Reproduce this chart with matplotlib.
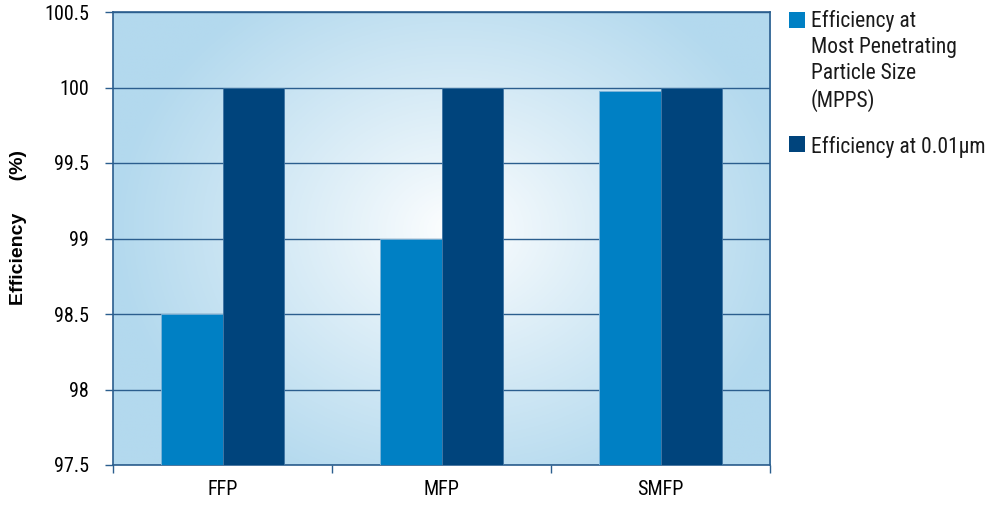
import numpy as np
import matplotlib
matplotlib.use("Agg")
import matplotlib.pyplot as plt
from matplotlib.patches import Rectangle
from matplotlib import font_manager

categories = ["FFP", "MFP", "SMFP"]
eff_mpps = [98.5, 99.0, 99.98]
eff_001 = [100.0, 100.0, 100.0]
legend_labels = ["Efficiency at\nMost Penetrating\nParticle Size\n(MPPS)",
                 "Efficiency at 0.01\u00b5m"]
yticks = [97.5, 98, 98.5, 99, 99.5, 100, 100.5]
ytick_labels = ["97.5", "98", "98.5", "99", "99.5", "100", "100.5"]

names = {f.name for f in font_manager.fontManager.ttflist}
fam = [n for n in ["Roboto Condensed", "Liberation Sans Narrow",
                   "DejaVu Sans"] if n in names]
plt.rcParams['font.family'] = fam
plt.rcParams['font.stretch'] = 'condensed'

light = "#0080C4"
dark = "#00447C"
edge_blue = "#2B5E8E"
W, H = 989, 505

fig = plt.figure(figsize=(W / 100, H / 100), dpi=100)
ax = fig.add_axes([113 / W, 40 / H, 657 / W, 453 / H])

# radial gradient background
nx, ny = 400, 300
gx, gy = np.meshgrid(np.linspace(0, 1, nx), np.linspace(0, 1, ny))
cx, cy = 0.52, 0.52
r = np.sqrt(((gx - cx) / 0.52) ** 2 + ((gy - cy) / 0.62) ** 2)
t = np.clip(r, 0, 1) ** 0.9
c_in = np.array([1.0, 1.0, 1.0])
c_out = np.array([0xB3, 0xD9, 0xEE]) / 255
img = c_in[None, None, :] * (1 - t[..., None]) + c_out[None, None, :] * t[..., None]
ax.imshow(img, extent=[-0.5, 2.5, 97.5, 100.5], aspect="auto", zorder=0,
          origin="lower")

x = np.arange(len(categories))
w = 0.283
ax.bar(x - w / 2, [v - 97.5 for v in eff_mpps], w, bottom=97.5, color=light,
       zorder=3, edgecolor="#7FB5DA", linewidth=0.6)
ax.bar(x + w / 2, [v - 97.5 for v in eff_001], w, bottom=97.5, color=dark,
       zorder=3, edgecolor="#3F74A3", linewidth=0.6)

ax.set_xlim(-0.5, 2.5)
ax.set_ylim(97.5, 100.5)
ax.set_yticks(yticks)
ax.set_yticklabels(ytick_labels, fontsize=14.5)
for yv in yticks:
    ax.axhline(yv, color=edge_blue, lw=1.0, zorder=2)

ax.set_xticks([-0.5, 0.5, 1.5, 2.5])
ax.set_xticklabels([])
ax.set_xticks(x, minor=True)
ax.set_xticklabels(categories, minor=True, fontsize=14.5)
ax.tick_params(axis="x", which="minor", length=0, pad=11)
ax.tick_params(axis="x", which="major", length=5.5, color=edge_blue, width=1)
ax.tick_params(axis="y", length=5.8, color=edge_blue, width=1, pad=11.5)

for s in ax.spines.values():
    s.set_color(edge_blue)
    s.set_linewidth(1.2)

ax.set_ylabel("Efficiency      (%)", fontsize=14, fontweight="bold",
              family=["Liberation Sans", "DejaVu Sans"], fontstretch="normal")
ax.yaxis.set_label_coords(-0.131, 0.525)

# legend, handles aligned with the first line of each label
leg_colors = [light, dark]
leg_text_y = [10, 147]
leg_va = ["top", "center"]
leg_box_y = [12, 136]
for col, lab, ty, va, by in zip(leg_colors, legend_labels, leg_text_y,
                                leg_va, leg_box_y):
    fig.add_artist(Rectangle((789 / W, 1 - (by + 16) / H), 16 / W, 16 / H,
                             transform=fig.transFigure, facecolor=col,
                             edgecolor="none"))
    fig.text(811 / W, 1 - ty / H, lab, fontsize=15.5, va=va, ha="left",
             color="#1a1a1a", linespacing=1.3)

fig.savefig("out.png", dpi=100)
